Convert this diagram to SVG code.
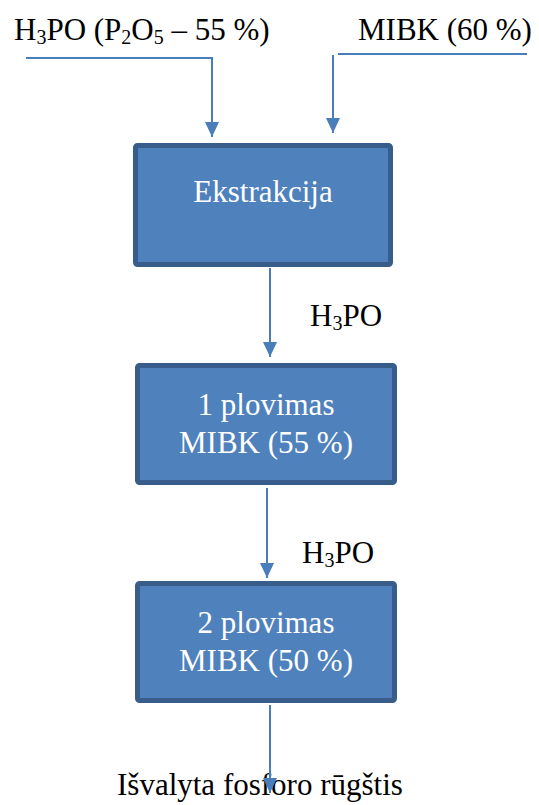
<svg xmlns="http://www.w3.org/2000/svg" width="539" height="805" viewBox="0 0 539 805">
<defs>
<style>
.box{fill:#4f81bd;stroke:#385d8a;stroke-width:5}
.bt{font-family:'Liberation Serif',serif;font-size:31px;fill:#ffffff;text-anchor:middle}
.lt{font-family:'Liberation Serif',serif;font-size:31px;fill:#000000}
.sub{font-size:20px}
.ln{fill:none;stroke:#4a7ebb;stroke-width:2}
</style>
<marker id="ah" viewBox="0 0 15 14" refX="15" refY="7" markerWidth="15" markerHeight="14" markerUnits="userSpaceOnUse" orient="auto">
<path d="M0,0 L15,7 L0,14 Z" fill="#4a7ebb"/>
</marker>
</defs>
<rect width="539" height="805" fill="#ffffff"/>
<g id="labels">
<text class="lt" x="14" y="40">H<tspan class="sub" dy="4">3</tspan><tspan dy="-4">PO (P</tspan><tspan class="sub" dy="4">2</tspan><tspan dy="-4">O</tspan><tspan class="sub" dy="4">5</tspan><tspan dy="-4"> – 55 %)</tspan></text>
<text class="lt" x="358" y="40">MIBK (60 %)</text>
<text class="lt" x="310" y="326">H<tspan class="sub" dy="4">3</tspan><tspan dy="-4">PO</tspan></text>
<text class="lt" x="302" y="563">H<tspan class="sub" dy="4">3</tspan><tspan dy="-4">PO</tspan></text>
<text class="lt" x="117" y="795">Išvalyta fosforo rūgštis</text>
</g>
<g id="connectors">
<polyline class="ln" points="26,58 212,58 212,137" marker-end="url(#ah)"/>
<line class="ln" x1="338" y1="54" x2="527" y2="54"/>
<line class="ln" x1="333" y1="55" x2="333" y2="133" marker-end="url(#ah)"/>
<line class="ln" x1="270" y1="268" x2="270" y2="357" marker-end="url(#ah)"/>
<line class="ln" x1="267" y1="488" x2="267" y2="578" marker-end="url(#ah)"/>
<line class="ln" x1="270" y1="705" x2="270" y2="793" marker-end="url(#ah)"/>
</g>
<g id="ekstrakcija">
<rect class="box" x="135.5" y="145.5" width="255" height="119" rx="2"/>
<text class="bt" x="263" y="202">Ekstrakcija</text>
</g>
<g id="plovimas1">
<rect class="box" x="137.5" y="365.5" width="257" height="117" rx="2"/>
<text class="bt" x="266" y="415">1 plovimas</text>
<text class="bt" x="266" y="453">MIBK (55 %)</text>
</g>
<g id="plovimas2">
<rect class="box" x="137.5" y="583.5" width="257" height="117" rx="2"/>
<text class="bt" x="266" y="633">2 plovimas</text>
<text class="bt" x="266" y="671">MIBK (50 %)</text>
</g>
</svg>
